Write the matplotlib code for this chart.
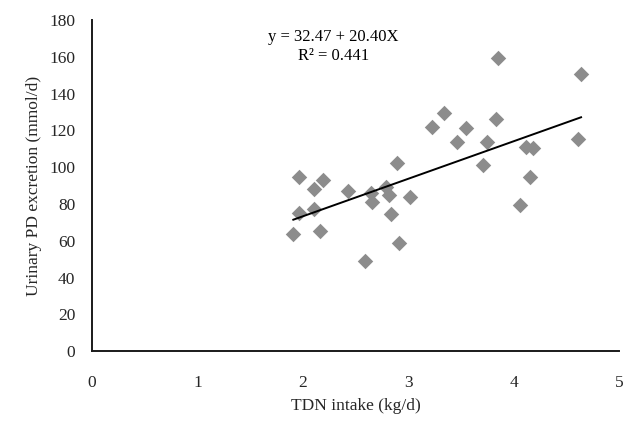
import numpy as np
import matplotlib.pyplot as plt

# TDN intake (kg/d) vs urinary PD excretion (mmol/d)
tdn = [1.91, 1.96, 1.96, 2.11, 2.11, 2.16, 2.19, 2.43, 2.59, 2.65, 2.66,
       2.79, 2.82, 2.84, 2.89, 2.91, 3.02, 3.23, 3.34, 3.46, 3.55, 3.71,
       3.75, 3.83, 3.85, 4.06, 4.12, 4.18, 4.16, 4.61, 4.64]
pd_exc = [63.6, 94.5, 75.2, 87.9, 77.0, 65.3, 93.0, 87.2, 49.1, 85.8, 81.2,
          89.3, 84.8, 74.5, 102.4, 58.6, 83.6, 122.0, 129.6, 113.8, 121.1, 101.1,
          113.8, 126.2, 159.2, 79.4, 111.1, 110.2, 94.5, 115.4, 150.4]

intercept = 32.47
slope = 20.40
r2 = 0.441

plt.rcParams["font.family"] = ["Liberation Serif", "DejaVu Serif"]

fig = plt.figure(figsize=(6.24, 4.22), dpi=100)
ax = fig.add_axes([0.1474, 0.168, 0.8446, 0.7846])

ax.scatter(tdn, pd_exc, marker="D", s=62, color="#8c8c8c", linewidths=0, zorder=2)

xs = np.array([min(tdn), max(tdn)])
ax.plot(xs, intercept + slope * xs, color="black", linewidth=1.4, zorder=3)

ax.text(2.29, 165.5, f"y = {intercept:.2f} + {slope:.2f}X\nR² = {r2:.3f}",
        ha="center", va="center", fontsize=12, linespacing=1.3)

ax.set_xlim(0, 5)
ax.set_ylim(0, 180)
ax.set_xticks(range(0, 6))
ax.set_yticks(range(0, 181, 20))
ax.tick_params(length=0, labelsize=12.5, colors="#262626")
ax.tick_params(axis="x", pad=17.5)
ax.tick_params(axis="y", pad=12)
for s in ["top", "right"]:
    ax.spines[s].set_visible(False)
for s in ["left", "bottom"]:
    ax.spines[s].set_linewidth(1.4)
    ax.spines[s].set_color("#1a1a1a")

ax.set_xlabel("TDN intake (kg/d)", fontsize=12.5, labelpad=5, color="#262626")
ax.set_ylabel("Urinary PD excretion (mmol/d)", fontsize=12.5, labelpad=5, color="#262626")

fig.savefig("out.png", dpi=100)
